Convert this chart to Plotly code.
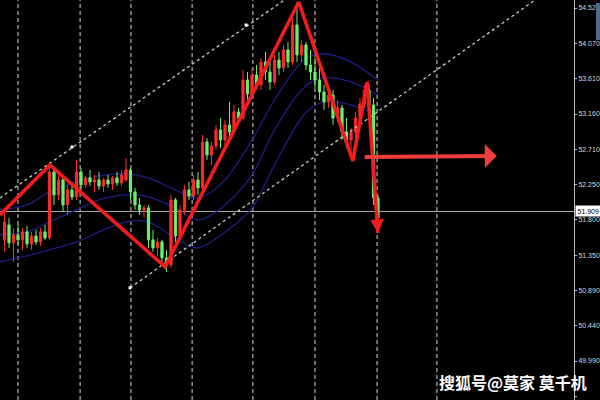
import plotly.graph_objects as go

# ---- data (candle index on x, price on y) ----
opens = [51.545, 51.737, 51.506, 51.609, 51.545, 51.647, 51.493, 51.596, 51.519, 51.647,
         51.570, 52.417, 52.122, 52.314, 51.993, 52.186, 52.096, 52.417, 52.250, 52.340,
         52.288, 52.314, 52.237, 52.314, 52.263, 52.340, 52.276, 52.314, 52.442, 52.160,
         51.993, 51.929, 51.955, 51.545, 51.442, 51.519, 51.314, 51.224, 52.058, 51.596,
         51.929, 52.186, 52.109, 52.314, 52.212, 52.802, 52.635, 52.750, 52.955, 52.827,
         53.020, 52.930, 53.186, 53.109, 53.597, 53.417, 53.661, 53.533, 53.828, 53.699,
         53.571, 53.853, 53.751, 53.982, 53.828, 54.302, 53.918, 54.046, 53.789, 53.699,
         53.597, 53.443, 53.315, 53.404, 53.109, 53.238, 52.930, 52.827, 52.930, 53.109,
         53.289, 53.469, 53.276, 52.083]
highs = [51.904, 51.827, 51.698, 51.737, 51.698, 51.724, 51.647, 51.673, 51.698, 51.737,
         52.545, 52.468, 52.378, 52.365, 52.250, 52.288, 52.571, 52.468, 52.365, 52.442,
         52.378, 52.417, 52.340, 52.378, 52.365, 52.417, 52.442, 52.596, 52.468, 52.212,
         52.083, 51.993, 51.993, 51.673, 51.570, 51.545, 51.416, 52.122, 52.083, 51.993,
         52.250, 52.288, 52.378, 52.417, 52.891, 52.853, 52.802, 53.020, 53.109, 53.084,
         53.315, 53.276, 53.238, 53.725, 53.699, 53.751, 53.789, 53.879, 53.956, 53.853,
         53.918, 53.956, 54.046, 54.084, 54.392, 54.585, 54.110, 54.084, 53.982, 53.879,
         53.751, 53.533, 53.494, 53.469, 53.340, 53.276, 53.109, 52.981, 53.186, 53.366,
         53.533, 53.546, 53.366, 52.122]
lows = [51.391, 51.442, 51.262, 51.480, 51.416, 51.442, 51.416, 51.480, 51.468, 51.545,
        51.545, 51.993, 52.058, 51.904, 51.865, 52.058, 52.058, 52.186, 52.212, 52.237,
        52.160, 52.186, 52.160, 52.212, 52.186, 52.237, 52.237, 52.288, 52.058, 51.929,
        51.865, 51.827, 51.442, 51.391, 51.339, 51.262, 51.134, 51.185, 51.519, 51.545,
        51.865, 52.058, 52.058, 52.122, 52.186, 52.571, 52.507, 52.699, 52.725, 52.763,
        52.827, 52.891, 53.020, 53.084, 53.340, 53.366, 53.469, 53.469, 53.597, 53.469,
        53.533, 53.661, 53.699, 53.751, 53.789, 53.828, 53.828, 53.725, 53.597, 53.494,
        53.340, 53.212, 53.238, 53.020, 53.058, 52.827, 52.725, 52.596, 52.853, 53.058,
        53.238, 53.186, 51.993, 51.737]
closes = [51.775, 51.506, 51.609, 51.545, 51.647, 51.493, 51.596, 51.519, 51.647, 51.570,
          52.417, 52.122, 52.314, 51.993, 52.186, 52.096, 52.417, 52.250, 52.340, 52.288,
          52.314, 52.237, 52.314, 52.263, 52.340, 52.276, 52.378, 52.442, 52.160, 51.993,
          51.929, 51.955, 51.545, 51.442, 51.519, 51.314, 51.224, 52.058, 51.596, 51.929,
          52.186, 52.109, 52.314, 52.212, 52.802, 52.635, 52.750, 52.955, 52.827, 53.020,
          52.930, 53.186, 53.109, 53.597, 53.417, 53.661, 53.533, 53.828, 53.699, 53.571,
          53.853, 53.751, 53.982, 53.828, 54.302, 53.918, 54.046, 53.789, 53.699, 53.597,
          53.443, 53.315, 53.404, 53.109, 53.238, 52.930, 52.827, 52.930, 53.109, 53.289,
          53.469, 53.276, 52.083, 51.827]
candle_x = list(range(len(closes)))

band_x = [-1, 5, 10, 16, 21, 27, 32, 38, 43, 49, 55, 60, 66, 71, 77, 83]
band_upper = [51.929, 51.993, 52.160, 52.288, 52.365, 52.391, 52.340, 52.186, 52.083,
              52.314, 52.827, 53.340, 53.828, 53.930, 53.828, 53.597]
band_mid = [51.609, 51.647, 51.775, 51.929, 52.058, 52.122, 52.096, 51.955, 51.801,
            51.993, 52.378, 52.955, 53.469, 53.623, 53.571, 53.404]
band_lower = [51.262, 51.339, 51.416, 51.519, 51.647, 51.775, 51.775, 51.570, 51.442,
              51.647, 51.955, 52.507, 53.109, 53.315, 53.276, 53.148]

zz_x = [-1, 10.1, 35.7, 65.4, 77.4, 80.6, 83.0]
zz_y = [51.865, 52.506, 51.198, 54.597, 52.558, 53.571, 51.634]

arrow_x = [79.7, 109.4]
arrow_y = [52.609, 52.622]

chan_up_x = [-1, 62.2]
chan_up_y = [52.083, 54.623]
chan_lo_x = [27.9, 117.9]
chan_lo_y = [50.929, 54.623]
anchor_x = [15, 53.7, 27.9]
anchor_y = [52.737, 54.302, 50.929]

last_price = 51.909
grid_x = [3, 16.8, 28.1, 41.7, 55.2, 69, 82.8, 96.1]
tick_vals = [54.52, 54.07, 53.61, 53.16, 52.71, 52.25, 51.80, 51.35, 50.89, 50.44, 49.99, 49.53]
tick_text = ["54.520", "54.070", "53.610", "53.160", "52.710", "52.250", "51.800",
             "51.350", "50.890", "50.440", "49.990", "49.530"]
watermark = "搜狐号@莫家 莫千机"

X_RANGE = [-1, 126.56]
Y_RANGE = [49.49, 54.623]
AX_FONT = "Liberation Sans Narrow, Arial Narrow, Liberation Sans, sans-serif"


def smooth_path(xs, ys):
    """Catmull-Rom curve through the given data points, as an SVG path in data units."""
    n = len(xs)
    d = f"M{xs[0]},{ys[0]}"
    for i in range(n - 1):
        x0, y0 = (xs[i - 1], ys[i - 1]) if i > 0 else (xs[i], ys[i])
        x1, y1 = xs[i], ys[i]
        x2, y2 = xs[i + 1], ys[i + 1]
        x3, y3 = (xs[i + 2], ys[i + 2]) if i + 2 < n else (x2, y2)
        c1x, c1y = x1 + (x2 - x0) / 6, y1 + (y2 - y0) / 6
        c2x, c2y = x2 - (x3 - x1) / 6, y2 - (y3 - y1) / 6
        d += f" C{c1x},{c1y} {c2x},{c2y} {x2},{y2}"
    return d


fig = go.Figure()

band_color = "#1e1e84"
for b in (band_upper, band_mid, band_lower):
    fig.add_shape(type="path", xref="x", yref="y", path=smooth_path(band_x, b),
                  line=dict(color=band_color, width=1.3), layer="below")

fig.add_trace(go.Candlestick(
    x=candle_x, open=opens, high=highs, low=lows, close=closes,
    increasing=dict(line=dict(color="#ff2a2a", width=1), fillcolor="#ff2a2a"),
    decreasing=dict(line=dict(color="#6cf06c", width=1), fillcolor="#6cf06c"),
    whiskerwidth=0, hoverinfo="skip"))

chan_color = "#b8d8b8"
fig.add_trace(go.Scatter(x=chan_up_x, y=chan_up_y, mode="lines",
                         line=dict(color=chan_color, width=1.3, dash="dot"), hoverinfo="skip"))
fig.add_trace(go.Scatter(x=chan_lo_x, y=chan_lo_y, mode="lines",
                         line=dict(color=chan_color, width=1.3, dash="dot"), hoverinfo="skip"))
fig.add_trace(go.Scatter(x=anchor_x, y=anchor_y, mode="markers",
                         marker=dict(color="#ffffff", size=3, symbol="square"), hoverinfo="skip"))

zz_color = "#f21c1c"
fig.add_trace(go.Scatter(x=zz_x, y=zz_y, mode="lines",
                         line=dict(color=zz_color, width=3.6), hoverinfo="skip"))

fig.add_annotation(x=zz_x[-1], y=zz_y[-1], ax=zz_x[-2] + (zz_x[-1] - zz_x[-2]) * 0.8,
                   ay=zz_y[-2] + (zz_y[-1] - zz_y[-2]) * 0.8,
                   xref="x", yref="y", axref="x", ayref="y", text="",
                   showarrow=True, arrowhead=2, arrowsize=0.9, arrowwidth=3, arrowcolor=zz_color)
fig.add_annotation(x=arrow_x[1], y=arrow_y[1], ax=arrow_x[0], ay=arrow_y[0],
                   xref="x", yref="y", axref="x", ayref="y", text="",
                   showarrow=True, arrowhead=1, arrowsize=1.0, arrowwidth=4, arrowcolor="#f03c3c")

for gx in grid_x:
    fig.add_shape(type="line", xref="x", x0=gx, x1=gx, yref="paper", y0=0, y1=1,
                  line=dict(color="#d8d8d8", width=1, dash="4px,3px"), layer="below")
fig.add_shape(type="line", xref="paper", x0=0, x1=1, yref="y", y0=last_price, y1=last_price,
              line=dict(color="#a8a8a8", width=1), layer="below")
fig.add_shape(type="rect", xref="paper", yref="paper", x0=1 + 22 / 574, x1=1 + 26 / 574,
              y0=1 - 40 / 400, y1=1 - 3 / 400, fillcolor="#4a6a90", line=dict(width=0))

fig.add_annotation(xref="paper", x=1, xanchor="left", xshift=1, yref="y", y=last_price,
                   text="51.909", showarrow=False, bgcolor="#ffffff", borderpad=1.5,
                   font=dict(color="#000000", size=7, family=AX_FONT))
fig.add_annotation(xref="paper", x=437 / 574, xanchor="left", yref="paper", y=1 - 382 / 400,
                   yanchor="middle", text=watermark, showarrow=False,
                   font=dict(color="#ffffff", size=16, family="Noto Sans CJK SC", weight="bold"))

fig.update_layout(
    template="none",
    width=600, height=400,
    margin=dict(l=0, r=26, t=0, b=0, pad=0),
    paper_bgcolor="#000000", plot_bgcolor="#000000",
    showlegend=False, hovermode=False,
    xaxis=dict(range=X_RANGE, showticklabels=False, ticks="", showgrid=False,
               zeroline=False, showline=False, automargin=False,
               rangeslider=dict(visible=False)),
    yaxis=dict(range=Y_RANGE, side="right", showgrid=False, zeroline=False,
               showline=True, linecolor="#b8b8b8", linewidth=1, automargin=False,
               ticks="outside", ticklen=2, tickcolor="#b8b8b8",
               tickmode="array", tickvals=tick_vals, ticktext=tick_text, ticklabelstandoff=0,
               tickfont=dict(color="#d8d8d8", size=7, family=AX_FONT)),
)

fig.write_html("out.html", config={"displayModeBar": False},
               post_script="document.body.style.margin='0';document.body.style.overflow='hidden';")
